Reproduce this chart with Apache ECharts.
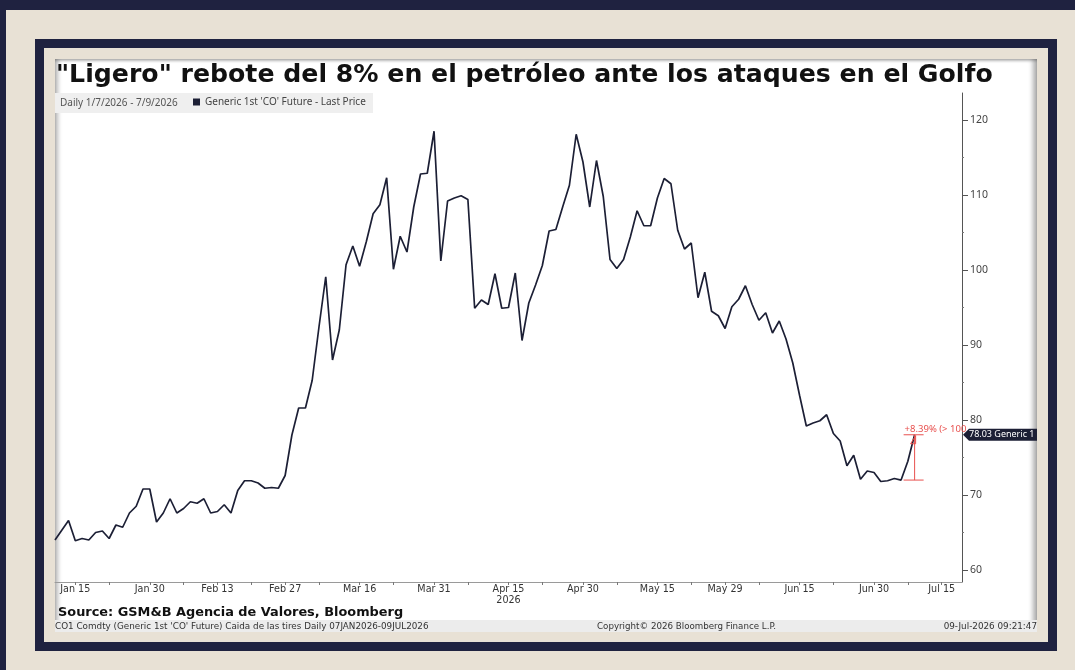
<!DOCTYPE html>
<html>
<head>
<meta charset="utf-8">
<script src="https://cdn.jsdelivr.net/npm/echarts@6/dist/echarts.min.js"></script>
<style>
  body { margin: 0; width: 1075px; height: 670px; overflow: hidden; position: relative; background: #e8e1d5; }
  .band { position: absolute; background: #1f2240; }
  .frame { position: absolute; left: 35px; top: 39px; width: 1022px; height: 612px; box-sizing: border-box; border: 9px solid #1f2240; }
  .paper {
    position: absolute; left: 55px; top: 59px; width: 982px; height: 573px; background: #fff;
    box-shadow: inset 4px 0 4px -1px rgba(0,0,0,0.28), inset -5px 0 5px -1px rgba(0,0,0,0.32),
                inset 0 3px 3px -1px rgba(0,0,0,0.18), inset 0 -3px 3px -1px rgba(0,0,0,0.18);
  }
  #chart { position: absolute; left: 0; top: 0; width: 1075px; height: 670px; }
</style>
</head>
<body>
<div class="band" style="left:0;top:0;width:1075px;height:10px"></div>
<div class="band" style="left:0;top:0;width:6px;height:670px"></div>
<div class="frame"></div>
<div class="paper"></div>
<div id="chart"></div>
<script>
const seriesName = "Generic 1st 'CO' Future - Last Price";
const startDate = "2026-01-12";
const endDate = "2026-07-20";
const skipDates = ["2026-07-03"];

// daily last price, one value per trading day from startDate
const prices = [
  64.0, 65.3, 66.6, 63.9, 64.2, 64.0, 65.0, 65.2, 64.2, 66.0,
  65.7, 67.6, 68.5, 70.8, 70.8, 66.4, 67.6, 69.5, 67.6, 68.2,
  69.1, 68.9, 69.5, 67.6, 67.8, 68.7, 67.6, 70.6, 71.9, 71.9,
  71.6, 70.9, 71.0, 70.9, 72.6, 78.0, 81.6, 81.6, 85.3, 92.4,
  99.1, 88.0, 92.0, 100.7, 103.2, 100.5, 103.8, 107.5, 108.7, 112.3,
  100.1, 104.5, 102.4, 108.4, 112.8, 112.9, 118.5, 101.2, 109.2, 109.6,
  109.9, 109.4, 94.9, 96.0, 95.4, 99.5, 94.9, 95.0, 99.6, 90.6,
  95.6, 98.0, 100.6, 105.2, 105.4, 108.4, 111.3, 118.1, 114.4, 108.4,
  114.6, 109.8, 101.4, 100.2, 101.4, 104.4, 107.9, 105.9, 105.9, 109.6,
  112.2, 111.5, 105.3, 102.8, 103.6, 96.3, 99.7, 94.5, 93.9, 92.2,
  95.1, 96.1, 97.9, 95.4, 93.3, 94.3, 91.6, 93.2, 90.8, 87.6,
  83.3, 79.2, 79.6, 79.9, 80.7, 78.2, 77.2, 73.9, 75.3, 72.1,
  73.2, 73.0, 71.8, 71.9, 72.2, 71.99, 74.5, 78.03
];
const baseIndex = 125; // low before the rebound

const labelDates = ["2026-01-15", "2026-01-30", "2026-02-13", "2026-02-27", "2026-03-16", "2026-03-31",
  "2026-04-15", "2026-04-30", "2026-05-15", "2026-05-29", "2026-06-15", "2026-06-30", "2026-07-15"];
const minorTickDates = ["2026-01-22", "2026-02-06", "2026-02-20", "2026-03-06", "2026-03-23", "2026-04-07",
  "2026-04-22", "2026-05-07", "2026-05-22", "2026-06-05", "2026-06-22", "2026-07-08"];
const yearLabelDate = "2026-04-15";
const yTicks = [60, 70, 80, 90, 100, 110, 120];
const yMinorTicks = [65, 75, 85, 95, 105, 115];
const months = ["Jan", "Feb", "Mar", "Apr", "May", "Jun", "Jul", "Aug", "Sep", "Oct", "Nov", "Dec"];

// trading days (weekdays, minus holidays)
const days = [];
for (let t = Date.parse(startDate); t <= Date.parse(endDate); t += 86400000) {
  const d = new Date(t);
  const s = d.toISOString().slice(0, 10);
  if (d.getUTCDay() === 0 || d.getUTCDay() === 6 || skipDates.includes(s)) continue;
  days.push(s);
}

const navy = "#1c1f35";
const red = "#e8504e";
const chart = echarts.init(document.getElementById("chart"));

chart.setOption({
  animation: false,
  title: {
    text: "\"Ligero\" rebote del 8% en el petróleo ante los ataques en el Golfo",
    left: 56,
    top: 61,
    padding: 0,
    textStyle: { fontFamily: "DejaVu Sans", fontWeight: "bold", fontSize: 25.2, lineHeight: 29, color: "#111" }
  },
  legend: {
    data: [seriesName],
    left: 193,
    top: 97,
    padding: 0,
    icon: "rect",
    itemWidth: 7,
    itemHeight: 7,
    itemGap: 4,
    textStyle: { fontFamily: "Noto Sans", fontSize: 10, color: "#444" }
  },
  grid: { left: 55, right: 113, top: 93, bottom: 88 },
  xAxis: {
    type: "category",
    data: days,
    boundaryGap: false,
    axisLine: { lineStyle: { color: "#9a9a9a", width: 1 } },
    axisTick: {
      interval: (i, v) => labelDates.includes(v) || minorTickDates.includes(v),
      length: 3,
      lineStyle: { color: "#777" }
    },
    axisLabel: {
      interval: (i, v) => labelDates.includes(v),
      margin: 2,
      fontFamily: "DejaVu Sans",
      fontSize: 9.6,
      lineHeight: 11,
      color: "#333",
      formatter: v => months[+v.slice(5, 7) - 1] + " " + (+v.slice(8)) + (v === yearLabelDate ? "\n2026" : "")
    }
  },
  yAxis: [
    {
      type: "value",
      position: "right",
      min: 58.4,
      max: 123.6,
      splitLine: { show: false },
      axisLine: { show: true, lineStyle: { color: "#555" } },
      axisTick: { show: true, customValues: yTicks, length: 6, lineStyle: { color: "#555" } },
      axisLabel: { customValues: yTicks, margin: 8, fontFamily: "Noto Sans", fontSize: 10.5, color: "#444" }
    },
    {
      type: "value",
      position: "right",
      min: 58.4,
      max: 123.6,
      splitLine: { show: false },
      axisLine: { show: false },
      axisTick: { show: true, customValues: yMinorTicks, length: 2, lineStyle: { color: "#777" } },
      axisLabel: { show: false }
    }
  ],
  series: [
    {
      name: seriesName,
      type: "line",
      data: prices,
      showSymbol: false,
      symbol: "none",
      color: navy,
      lineStyle: { color: navy, width: 1.7 }
    }
  ],
  graphic: [
    { id: "subBg", type: "rect", shape: { x: 55, y: 93, width: 318, height: 20 }, style: { fill: "#efefef" }, z: -1 },
    { id: "subTxt", type: "text", x: 60, y: 103, style: { text: "Daily 1/7/2026 - 7/9/2026", font: "10px 'Noto Sans'", fill: "#555", textVerticalAlign: "middle" } },
    { id: "footBg", type: "rect", shape: { x: 55, y: 620, width: 982, height: 12 }, style: { fill: "#ececec" }, z: -1 },
    { id: "source", type: "text", x: 58, y: 613, style: { text: "Source: GSM&B Agencia de Valores, Bloomberg", font: "bold 12.9px 'DejaVu Sans'", fill: "#111", textVerticalAlign: "middle" } },
    { id: "foot1", type: "text", x: 55, y: 627, style: { text: "CO1 Comdty (Generic 1st 'CO' Future) Caida de las tires Daily 07JAN2026-09JUL2026", font: "8.8px 'DejaVu Sans'", fill: "#333", textVerticalAlign: "middle" } },
    { id: "foot2", type: "text", x: 597, y: 627, style: { text: "Copyright\u00a9 2026 Bloomberg Finance L.P.", font: "8.7px 'DejaVu Sans'", fill: "#333", textVerticalAlign: "middle" } },
    { id: "foot3", type: "text", x: 1037, y: 627, style: { text: "09-Jul-2026 09:21:47", font: "8.8px 'DejaVu Sans'", fill: "#333", textAlign: "right", textVerticalAlign: "middle" } }
  ]
});

// last price tag on the axis and the rebound measure, placed through the chart scales
const lastIndex = prices.length - 1;
const lastPrice = prices[lastIndex];
const basePrice = prices[baseIndex];
const pTop = chart.convertToPixel({ xAxisIndex: 0, yAxisIndex: 0 }, [lastIndex, lastPrice]);
const pBase = chart.convertToPixel({ xAxisIndex: 0, yAxisIndex: 0 }, [lastIndex, basePrice]);
const axisX = chart.convertToPixel({ xAxisIndex: 0 }, days.length - 1) + 1;
const change = ((lastPrice / basePrice - 1) * 100).toFixed(2);

chart.setOption({
  graphic: [
    {
      id: "tag", type: "polygon", z: 10,
      shape: { points: [[axisX, pTop[1]], [axisX + 6, pTop[1] - 6], [1037, pTop[1] - 6], [1037, pTop[1] + 6], [axisX + 6, pTop[1] + 6]] },
      style: { fill: navy }
    },
    { id: "tagTxt", type: "text", z: 11, x: axisX + 6, y: pTop[1], style: { text: lastPrice.toFixed(2) + " Generic 1", font: "9px 'Noto Sans'", fill: "#fff", textVerticalAlign: "middle" } },
    { id: "mTop", type: "line", z: 9, shape: { x1: pTop[0] - 11, y1: pTop[1], x2: pTop[0] + 9, y2: pTop[1] }, style: { stroke: red, lineWidth: 1 } },
    { id: "mBase", type: "line", z: 9, shape: { x1: pTop[0] - 11, y1: pBase[1], x2: pTop[0] + 9, y2: pBase[1] }, style: { stroke: red, lineWidth: 1 } },
    { id: "mVert", type: "line", z: 9, shape: { x1: pTop[0], y1: pTop[1], x2: pTop[0], y2: pBase[1] }, style: { stroke: red, lineWidth: 1 } },
    {
      id: "mArrow", type: "polygon", z: 9,
      shape: { points: [[pTop[0] - 4, pTop[1] + 9], [pTop[0] + 1, pTop[1] + 1], [pTop[0] + 1, pTop[1] + 9]] },
      style: { fill: "none", stroke: red, lineWidth: 1 }
    },
    { id: "mTxt", type: "text", z: 9, x: pTop[0] - 10, y: pTop[1] - 5, style: { text: "+" + change + "% (> 100", font: "9.5px 'Noto Sans'", fill: red, textVerticalAlign: "middle" } }
  ]
});
</script>
</body>
</html>
